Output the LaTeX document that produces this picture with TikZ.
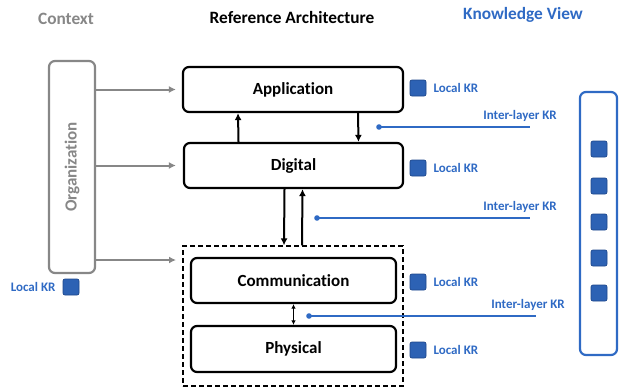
\documentclass[tikz,border=0pt]{standalone}
\usepackage{fontspec}
\setmainfont{Carlito}[Ligatures=NoCommon]
\usepackage{tikz}
\usetikzlibrary{arrows.meta, positioning}

\definecolor{kblue}{RGB}{47,106,196}
\definecolor{ksq}{RGB}{45,98,180}
\definecolor{ksqline}{RGB}{30,72,140}
\definecolor{cgray}{RGB}{135,135,135}

\tikzset{
    layer/.style={draw, line width=2.2pt, rounded corners=6pt, minimum height=45pt, font=\fontsize{17}{19}\selectfont\bfseries},
    krsq/.style={draw=ksqline, fill=ksq, line width=0.7pt, rounded corners=2pt, minimum size=16pt, inner sep=0pt},
    krtext/.style={text=kblue, font=\fontsize{13}{15}\selectfont\bfseries, inner sep=0pt},
    title/.style={font=\fontsize{17.3}{19}\selectfont\bfseries, inner sep=0pt},
    arr/.style={line width=2pt, -{Latex[length=7pt, width=7pt]}},
    grayarr/.style={cgray, line width=2pt, -{Latex[length=7pt, width=7pt]}},
    kline/.style={kblue, line width=1.6pt},
}

\begin{document}
\begin{tikzpicture}[x=1pt, y=-1pt]
    \useasboundingbox (0,0) rectangle (621,391);

    \node[title, text=cgray] (context) at (66,19) {Context};
    \node[title] (refarch) at (292,17) {Reference Architecture};
    \node[title, text=kblue] (kview) at (523,15) {Knowledge View};

    % reference architecture
    \node[layer, minimum width=220pt] (application) at (293,89.5) {Application};
    \node[layer, minimum width=219pt] (digital) at (293.5,165.5) {Digital};
    \node[draw, line width=1.3pt, dash pattern=on 5pt off 3pt, minimum width=220pt, minimum height=140pt] (lower) at (293,316) {};
    \node[layer, minimum width=205pt] (comm) at (293.5,280.5) {Communication};
    \node[layer, minimum width=205pt, minimum height=46pt] (phys) at (293.5,349) {Physical};

    \draw[arr] ([xshift=-55pt]digital.north) -- ([xshift=-55pt]application.south);
    \draw[arr] ([xshift=65pt]application.south) -- ([xshift=65pt]digital.north);
    \draw[arr] ([xshift=-9pt]digital.south) -- ([xshift=-9pt]lower.north);
    \draw[arr] ([xshift=9pt]lower.north) -- ([xshift=9pt]digital.south);
    \draw[line width=1.4pt, {Latex[length=4.5pt, width=4.5pt]}-{Latex[length=4.5pt, width=4.5pt]}] (comm.south) -- (phys.north);

    % context
    \node[draw=cgray, line width=2.2pt, rounded corners=6pt, minimum width=46pt, minimum height=212pt] (org) at (72,167) {};
    \node[rotate=90, text=cgray, font=\fontsize{17}{19}\selectfont\bfseries] (orgtext) at (org.center) {Organization};
    \coordinate (lowerin) at (176,260);
    \draw[grayarr] (org.east |- application.west) -- ([xshift=-6pt]application.west);
    \draw[grayarr] (org.east |- digital.west) -- ([xshift=-7pt]digital.west);
    \draw[grayarr] (org.east |- lowerin) -- (lowerin);

    \node[krsq] (orgkr) at (71,287) {};
    \node[krtext, left=7pt of orgkr] (orgkrtext) {Local KR};

    % local KR
    \foreach \n/\y in {app/88, dig/168, com/282, phy/350} {
        \node[krsq] (lk\n) at (418,\y) {};
        \node[krtext, right=7pt of lk\n] (lt\n) {Local KR};
    }

    % inter-layer KR
    \foreach \i/\xa/\xb/\xt/\y in {1/379/530/557/127, 2/317/530/557/218, 3/309/536/565/316} {
        \coordinate (ilstart\i) at (\xa,\y);
        \coordinate (ilend\i) at (\xb,\y);
        \draw[kline] (ilstart\i) -- (ilend\i);
        \fill[kblue] (ilstart\i) circle (2.8pt);
        \node[krtext, anchor=east] (iltext\i) at (\xt,\y-11) {Inter-layer KR};
    }

    % knowledge view
    \node[draw=kblue, line width=2.2pt, rounded corners=6pt, minimum width=37pt, minimum height=263pt] (kvbox) at (598.5,223.5) {};
    \foreach \y [count=\i] in {149,186,222,258,293}
        \node[krsq] (kv\i) at (599,\y) {};

\end{tikzpicture}
\end{document}
